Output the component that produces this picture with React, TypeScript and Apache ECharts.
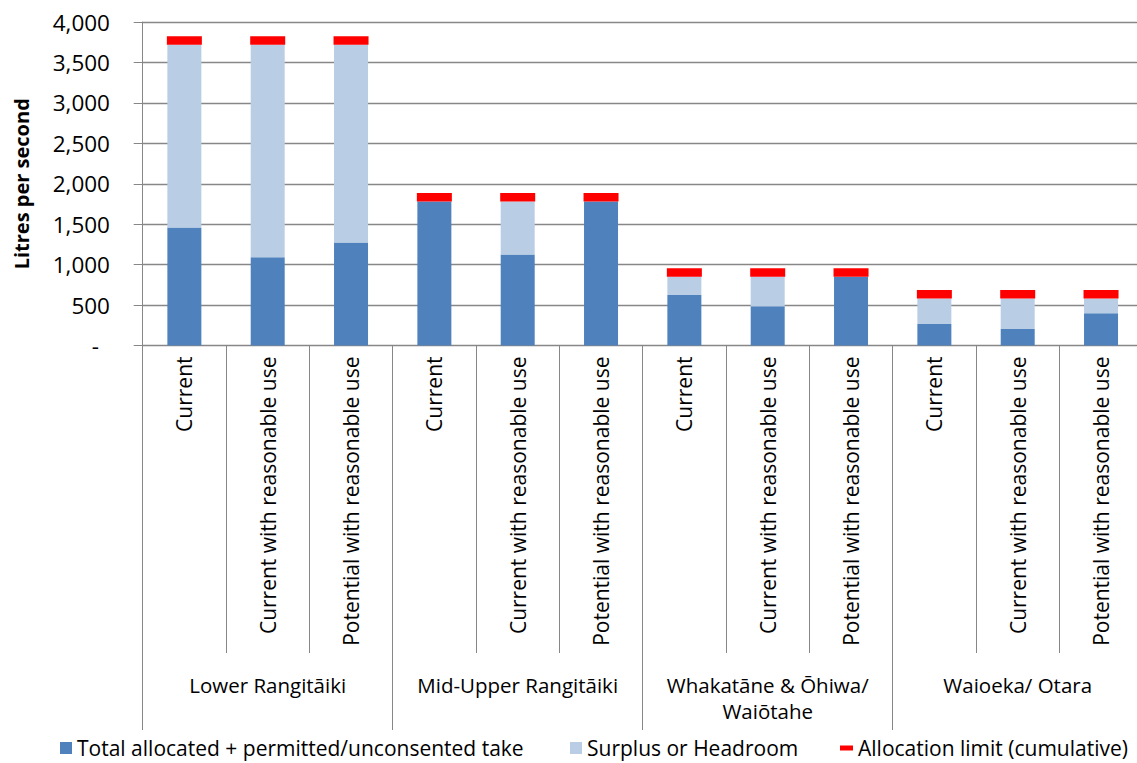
import React, { useEffect, useRef } from "react";
import * as echarts from "echarts";

const subCategories = [
  "Current", "Current with reasonable use", "Potential with reasonable use",
  "Current", "Current with reasonable use", "Potential with reasonable use",
  "Current", "Current with reasonable use", "Potential with reasonable use",
  "Current", "Current with reasonable use", "Potential with reasonable use",
];
const groups = ["Lower Rangitāiki", "Mid-Upper Rangitāiki", "Whakatāne & Ōhiwa/\nWaiōtahe", "Waioeka/ Otara"];
const allocated = [1460, 1090, 1275, 1780, 1125, 1780, 625, 485, 850, 265, 205, 400];
const surplus = [2260, 2630, 2445, 0, 655, 0, 225, 365, 0, 315, 375, 180];
const allocationLimit = [3720, 3720, 3720, 1780, 1780, 1780, 850, 850, 850, 580, 580, 580];
const yTicks = { min: 0, max: 4000, interval: 500 };

const FONT = "'Open Sans', sans-serif";
const GRAY = "#878787";

export default function App() {
  const ref = useRef<HTMLDivElement>(null);
  useEffect(() => {
    if (!ref.current) return;
    const chart = echarts.init(ref.current, null, { renderer: "svg" });
    const legendBase = {
      top: 735,
      padding: 0,
      itemWidth: 12,
      itemHeight: 12,
      itemGap: 5,
      textStyle: { fontFamily: FONT, fontSize: 21, color: "#000", lineHeight: 26 },
      selectedMode: false,
    };
    chart.setOption({
      animation: false,
      textStyle: { fontFamily: FONT },
      grid: { left: 142.7, right: -5.7, top: 22, bottom: 417.5, outerBoundsMode: "none" },
      legend: [
        { ...legendBase, left: 60, data: [{ name: "Total allocated + permitted/unconsented take", icon: "rect" }] },
        { ...legendBase, left: 570, data: [{ name: "Surplus or Headroom", icon: "rect" }] },
        { ...legendBase, left: 840, itemWidth: 13, itemHeight: 5, data: [{ name: "Allocation limit (cumulative)", icon: "rect" }] },
      ],
      xAxis: [
        {
          type: "category",
          data: subCategories,
          axisLine: { show: true, lineStyle: { color: GRAY, width: 1 } },
          axisTick: { show: true, interval: 0, length: 307.5, lineStyle: { color: GRAY, width: 1 } },
          axisLabel: {
            interval: 0, rotate: 90, margin: 11, fontFamily: FONT, fontSize: 21, color: "#000",
          },
          splitLine: { show: false },
        },
        {
          type: "category",
          data: groups,
          position: "bottom",
          axisLine: { show: false },
          axisTick: { show: true, interval: 0, length: 384.5, lineStyle: { color: GRAY, width: 1 } },
          axisLabel: {
            interval: 0, margin: 326, fontFamily: FONT, fontSize: 20.5, lineHeight: 26, color: "#000",
          },
          splitLine: { show: false },
        },
      ],
      yAxis: {
        type: "value",
        min: yTicks.min,
        max: yTicks.max,
        interval: yTicks.interval,
        name: "Litres per second",
        nameLocation: "middle",
        nameRotate: 90,
        nameGap: 111,
        nameTextStyle: { fontFamily: FONT, fontSize: 20, fontWeight: "bold", color: "#000" },
        axisLine: { show: true, lineStyle: { color: GRAY, width: 1 } },
        axisTick: { show: true, length: 9, lineStyle: { color: GRAY, width: 1 } },
        splitLine: { show: true, lineStyle: { color: GRAY, width: 1.3 } },
        axisLabel: {
          margin: 32.7,
          fontFamily: FONT,
          fontSize: 22.5,
          color: "#000",
          formatter: (v: number) => (v === 0 ? "{d|-}" : v.toLocaleString("en-US")),
          rich: { d: { fontFamily: FONT, fontSize: 22.5, color: "#000", padding: [0, 11, 0, 0] } },
        },
      },
      series: [
        {
          name: "Total allocated + permitted/unconsented take",
          type: "bar",
          stack: "total",
          barWidth: 34,
          data: allocated,
          itemStyle: { color: "#4F81BD" },
        },
        {
          name: "Surplus or Headroom",
          type: "bar",
          stack: "total",
          barWidth: 34,
          data: surplus,
          itemStyle: { color: "#B9CDE5" },
        },
        {
          name: "Allocation limit (cumulative)",
          type: "scatter",
          data: allocationLimit,
          symbol: "rect",
          symbolSize: [35, 8.5],
          symbolOffset: [0, -4.25],
          itemStyle: { color: "#FF0000", opacity: 1 },
          z: 5,
        },
      ],
    });
    return () => chart.dispose();
  }, []);
  return (
    <div
      ref={ref}
      style={{ position: "fixed", left: 0, top: 0, width: 1137, height: 763, background: "#fff" }}
    />
  );
}
